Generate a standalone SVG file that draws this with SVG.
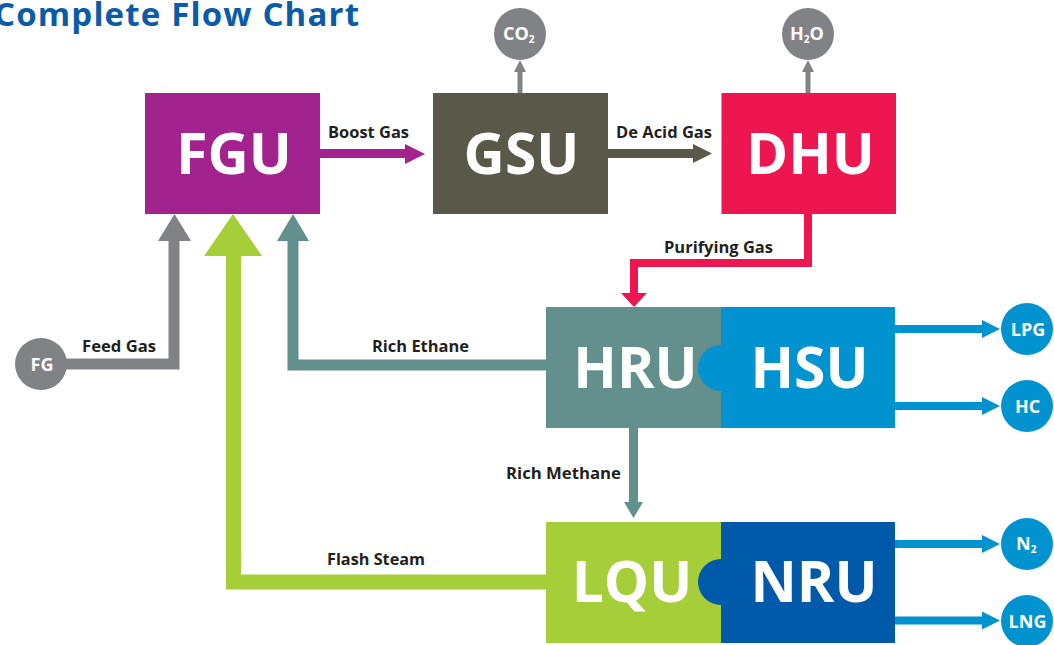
<svg xmlns="http://www.w3.org/2000/svg" width="1054" height="645" viewBox="0 0 1054 645">
<style>
text{font-family:"Open Sans","Liberation Sans",sans-serif;font-weight:700}
.big{font-size:57px;fill:#fff;text-anchor:middle}
.lbl{font-size:16px;fill:#231f20}
.cir{font-size:18px;fill:#fff}
.cirm{font-size:18px;fill:#fff;text-anchor:middle}
.sub{font-size:10px}
.ln{fill:none;stroke-linejoin:miter}
.pur{fill:#a3238e}.purS{stroke:#a3238e}
.olv{fill:#5a5849}.olvS{stroke:#5a5849}
.red{fill:#ed1651}.redS{stroke:#ed1651}
.tea{fill:#638f8c}.teaS{stroke:#638f8c}
.blu{fill:#0093d0}.bluS{stroke:#0093d0}
.lim{fill:#a6ce39}.limS{stroke:#a6ce39}
.nav{fill:#005aa9}
.gry{fill:#808285}.gryS{stroke:#808285}
</style>
<text x="-6" y="26" font-size="33" fill="#0a5ca8" textLength="365" lengthAdjust="spacing">Complete Flow Chart</text>

<g id="connectors">
  <path class="ln purS" stroke-width="9" d="M320,153.5 H406"/>
  <polygon class="pur" points="405,144 425,154 405,164"/>
  <text class="lbl" x="328" y="138" textLength="81" lengthAdjust="spacingAndGlyphs">Boost Gas</text>

  <path class="ln olvS" stroke-width="9" d="M608,153.5 H694"/>
  <polygon class="olv" points="693,144 712,153.5 693,163"/>
  <text class="lbl" x="616" y="138" textLength="96" lengthAdjust="spacingAndGlyphs">De Acid Gas</text>

  <path class="ln gryS" stroke-width="5" d="M520,93 V71"/>
  <polygon class="gry" points="514,72 520,60 526,72"/>
  <path class="ln gryS" stroke-width="5" d="M808,93 V71"/>
  <polygon class="gry" points="802,72 808,60 814,72"/>

  <path class="ln redS" stroke-width="8" d="M808,213 V263 H634 V294"/>
  <polygon class="red" points="621,293 647,293 634,307"/>
  <text class="lbl" x="664" y="253" textLength="109" lengthAdjust="spacingAndGlyphs">Purifying Gas</text>

  <path class="ln teaS" stroke-width="9" d="M633.5,428 V503"/>
  <polygon class="tea" points="624,502 643,502 633.5,518"/>
  <text class="lbl" x="506" y="479" textLength="115" lengthAdjust="spacingAndGlyphs">Rich Methane</text>

  <path class="ln teaS" stroke-width="11" d="M546,365 H293 V240"/>
  <polygon class="tea" points="277,241 309,241 293,214"/>
  <text class="lbl" x="372" y="352" textLength="97" lengthAdjust="spacingAndGlyphs">Rich Ethane</text>

  <path class="ln limS" stroke-width="15" d="M546,582 H233.5 V255"/>
  <polygon class="lim" points="204,256 262,256 233,214"/>
  <text class="lbl" x="327" y="565" textLength="98" lengthAdjust="spacingAndGlyphs">Flash Steam</text>

  <path class="ln gryS" stroke-width="11" d="M60,364 H174 V240"/>
  <polygon class="gry" points="158,241 191,241 174.5,214"/>
  <text class="lbl" x="82" y="352" textLength="74" lengthAdjust="spacingAndGlyphs">Feed Gas</text>

  <path class="ln bluS" stroke-width="8" d="M895,329 H983"/>
  <polygon class="blu" points="982,320 1000,329 982,338"/>
  <path class="ln bluS" stroke-width="8" d="M895,406 H983"/>
  <polygon class="blu" points="982,397 1000,406 982,415"/>
  <path class="ln bluS" stroke-width="8" d="M893,544 H983"/>
  <polygon class="blu" points="982,535 1000,544 982,553"/>
  <path class="ln bluS" stroke-width="8" d="M893,620.5 H983"/>
  <polygon class="blu" points="982,611.5 1000,620.5 982,629.5"/>
</g>

<g id="FGU">
  <rect class="pur" x="145" y="93" width="175" height="121"/>
  <text class="big" x="234" y="174">FGU</text>
</g>
<g id="GSU">
  <rect class="olv" x="433" y="93" width="175" height="121"/>
  <text class="big" x="521.5" y="174">GSU</text>
</g>
<g id="DHU">
  <rect class="red" x="721.5" y="93" width="174.5" height="121"/>
  <text class="big" x="810.5" y="174">DHU</text>
</g>
<g id="CO2">
  <circle class="gry" cx="520" cy="34" r="26"/>
  <text class="cir" x="503" y="40">CO<tspan class="sub" dy="3">2</tspan></text>
</g>
<g id="H2O">
  <circle class="gry" cx="808" cy="34" r="26"/>
  <text class="cir" x="790" y="40">H<tspan class="sub" dy="3">2</tspan><tspan dy="-3">O</tspan></text>
</g>
<g id="HRU">
  <rect class="tea" x="546" y="307" width="175" height="121"/>
  <text class="big" x="635.5" y="388">HRU</text>
</g>
<g id="HSU">
  <rect class="blu" x="721" y="307" width="174" height="121"/>
  <circle class="blu" cx="721" cy="368" r="23"/>
  <text class="big" x="809.5" y="388">HSU</text>
</g>
<g id="LQU">
  <rect class="lim" x="546" y="522" width="175" height="121"/>
  <text class="big" x="632" y="602">LQU</text>
</g>
<g id="NRU">
  <rect class="nav" x="721" y="522" width="174" height="121"/>
  <circle class="nav" cx="721" cy="582" r="23"/>
  <text class="big" x="814" y="602">NRU</text>
</g>
<g id="FG">
  <circle class="gry" cx="41" cy="364" r="26"/>
  <text class="cirm" x="42" y="371">FG</text>
</g>
<g id="LPG">
  <circle class="blu" cx="1027" cy="329" r="26"/>
  <text class="cirm" x="1028" y="336">LPG</text>
</g>
<g id="HC">
  <circle class="blu" cx="1027" cy="406" r="26"/>
  <text class="cirm" x="1027.5" y="413">HC</text>
</g>
<g id="N2">
  <circle class="blu" cx="1027" cy="544" r="26"/>
  <text class="cir" x="1016" y="550">N<tspan class="sub" dy="3">2</tspan></text>
</g>
<g id="LNG">
  <circle class="blu" cx="1027" cy="621" r="26"/>
  <text class="cirm" x="1027.5" y="628">LNG</text>
</g>
</svg>
